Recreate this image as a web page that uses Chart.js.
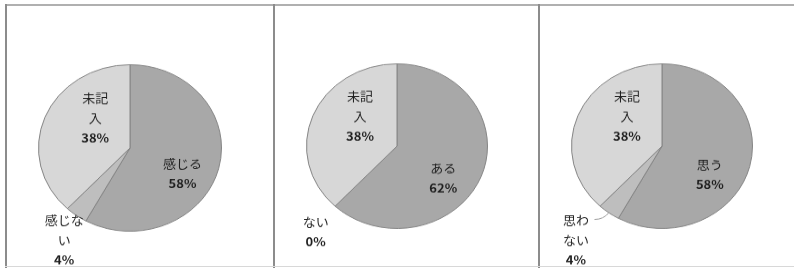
<!DOCTYPE html>
<html>
<head>
<meta charset="utf-8">
<script src="https://cdn.jsdelivr.net/npm/chart.js@4.4.1/dist/chart.umd.min.js"></script>
<style>
  body { margin: 0; background: #fff; width: 794px; height: 268px; overflow: hidden; position: relative; }
  .frame { position: absolute; background: #8c8c8c; }
  canvas { position: absolute; transform-origin: 0 0; transform: scaleY(0.91); }
</style>
</head>
<body>
<div class="frame" style="left:5px; top:4px; width:789px; height:2px; background:#b0b0b0;"></div>
<div class="frame" style="left:5px; top:4px; width:2px; height:264px;"></div>
<div class="frame" style="left:273px; top:4px; width:2px; height:264px;"></div>
<div class="frame" style="left:538px; top:4px; width:2px; height:264px;"></div>
<div class="frame" style="left:5px; top:266px; width:789px; height:1px; background:#d8d8d8;"></div>

<canvas id="pie1" width="266" height="289" style="left:7px; top:6px;"></canvas>
<canvas id="pie2" width="262" height="289" style="left:275px; top:6px;"></canvas>
<canvas id="pie3" width="254" height="289" style="left:540px; top:6px;"></canvas>

<script>
// data
const labels1 = [['感じる'], ['感じな', 'い'], ['未記', '入']];
const values1 = [58, 4, 38];

const labels2 = [['ある'], ['ない'], ['未記', '入']];
const values2 = [62, 0, 38];

const labels3 = [['思う'], ['思わ', 'ない'], ['未記', '入']];
const values3 = [58, 4, 38];

const sliceColors = ['#a8a8a8', '#bebebe', '#d7d7d7'];

// where each label block sits: [angle from top (deg, clockwise), distance as share of radius]
const spots1 = [[118, 0.65], [213, 1.32], [313, 0.52]];
const spots2 = [[127, 0.64], [221, 1.37], [312, 0.55]];
const spots3 = [[123, 0.63], [220, 1.48], [313, 0.53]];

const pieLabels = {
    id: 'pieLabels',
    afterDatasetsDraw(chart, args, opts) {
        const ctx = chart.ctx;
        const meta = chart.getDatasetMeta(0);
        const data = chart.data.datasets[0].data;
        const arc0 = meta.data[0];
        const cx = arc0.x, cy = arc0.y, R = arc0.outerRadius;
        ctx.save();
        ctx.textAlign = 'center';
        ctx.textBaseline = 'middle';
        ctx.fillStyle = '#1e1e1e';
        opts.spots.forEach((s, i) => {
            const a = s[0] * Math.PI / 180;
            const x = cx + Math.sin(a) * R * s[1];
            const y = cy - Math.cos(a) * R * s[1];
            const lines = chart.data.labels[i].concat([data[i] + '%']);
            const lh = 22;
            const y0 = y - (lines.length - 1) * lh / 2;
            lines.forEach((t, j) => {
                const isPct = j === lines.length - 1;
                ctx.font = (isPct ? 'bold ' : '') + '13px "Noto Sans CJK JP", sans-serif';
                ctx.fillText(t, x, y0 + j * lh);
            });
        });
        if (opts.leader !== undefined) {
            // thin leader from the small slice to its label
            const arc = meta.data[opts.leader];
            const mid = (arc.startAngle + arc.endAngle) / 2;
            const ex = cx + Math.cos(mid) * R, ey = cy + Math.sin(mid) * R;
            const mx = cx + Math.cos(mid) * R * 1.1, my = cy + Math.sin(mid) * R * 1.1;
            ctx.strokeStyle = '#9a9a9a';
            ctx.lineWidth = 1;
            ctx.beginPath();
            ctx.moveTo(ex, ey);
            ctx.quadraticCurveTo(mx, my, mx - 9, my);
            ctx.stroke();
        }
        ctx.restore();
    }
};

function makePie(id, labels, values, spots, pad, leader) {
    new Chart(document.getElementById(id), {
        type: 'pie',
        data: {
            labels: labels,
            datasets: [{
                data: values,
                backgroundColor: sliceColors,
                borderColor: '#858585',
                borderWidth: 1
            }]
        },
        options: {
            responsive: false,
            animation: false,
            layout: { padding: pad },
            plugins: {
                legend: { display: false },
                tooltip: { enabled: false },
                pieLabels: { spots: spots, leader: leader }
            }
        },
        plugins: [pieLabels]
    });
}

makePie('pie1', labels1, values1, spots1, { left: 31, right: 51, top: 64, bottom: 41 });
makePie('pie2', labels2, values2, spots2, { left: 31, right: 49, top: 63, bottom: 44 });
makePie('pie3', labels3, values3, spots3, { left: 31, right: 41, top: 63, bottom: 44 }, 1);
</script>
</body>
</html>
